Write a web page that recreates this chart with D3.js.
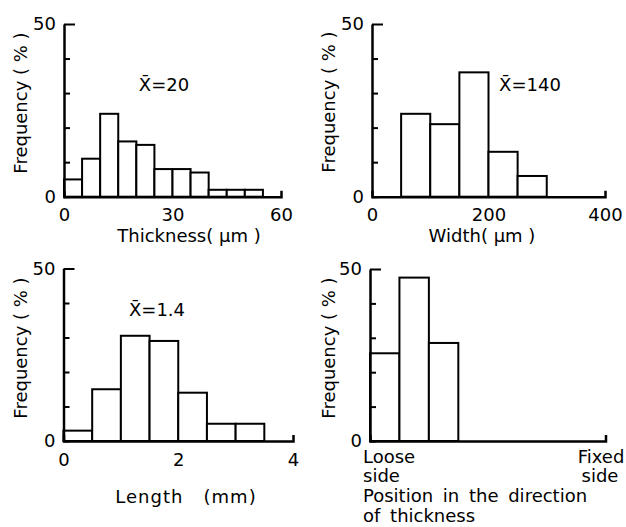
<!DOCTYPE html>
<html>
<head>
<meta charset="utf-8">
<script src="https://cdn.jsdelivr.net/npm/d3@7"></script>
<style>
  body { margin: 0; background: #fff; }
  svg { display: block; font-family: "DejaVu Sans", sans-serif; }
  text { fill: #000; }
</style>
</head>
<body>
<div id="chart"></div>
<script>
// Histogram data (bin start, frequency %)
const thicknessStarts = [0, 5, 10, 15, 20, 25, 30, 35, 40, 45, 50];
const thicknessFreq = [5, 11, 24, 16, 15, 8, 8, 7, 2, 2, 2];
const thicknessTicks = [0, 30, 60];

const widthStarts = [50, 100, 150, 200, 250];
const widthFreq = [24, 21, 36, 13, 6];
const widthTicks = [0, 200, 400];

const lengthStarts = [0, 0.5, 1, 1.5, 2, 2.5, 3];
const lengthFreq = [3, 15, 30.5, 29, 14, 5, 5];
const lengthTicks = [0, 2, 4];

const positionStarts = [0, 1, 2];
const positionFreq = [25.5, 47.5, 28.5];

const yTicks = [0, 10, 20, 30, 40, 50];

const W = 626, H = 527;
const svg = d3.select("#chart").append("svg")
  .attr("width", W)
  .attr("height", H);

// draw one histogram panel
function panel(opt) {
  const x = d3.scaleLinear().domain(opt.xDomain).range(opt.xRange);
  const y = d3.scaleLinear().domain([0, 50]).range(opt.yRange);
  const g = svg.append("g");

  g.selectAll("rect")
    .data(opt.starts)
    .join("rect")
    .attr("x", d => x(d))
    .attr("y", (d, i) => y(opt.freq[i]))
    .attr("width", d => x(d + opt.bin) - x(d))
    .attr("height", (d, i) => y(0) - y(opt.freq[i]))
    .attr("fill", "#fff")
    .attr("stroke", "#000")
    .attr("stroke-width", 2);

  // y axis, ticks pointing inwards
  const ya = g.append("g")
    .attr("transform", `translate(${opt.xRange[0]},0)`)
    .call(d3.axisLeft(y)
      .tickValues(yTicks)
      .tickSize(-6)
      .tickSizeOuter(0)
      .tickPadding(8)
      .tickFormat(d => (d === 0 || d === 50) ? d : ""));
  ya.selectAll(".tick line").filter(d => d === 50).attr("x2", 11);

  // x axis, small upward tick at the end
  const xa = g.append("g")
    .attr("transform", `translate(0,${opt.yRange[0]})`)
    .call(d3.axisBottom(x)
      .tickValues(opt.ticks)
      .tickFormat(d => String(d))
      .tickSize(0)
      .tickSizeOuter(-6)
      .tickPadding(12));

  [ya, xa].forEach(a => {
    a.select(".domain").attr("stroke-width", 2.5);
    a.selectAll(".tick line").attr("stroke-width", 2);
    a.selectAll("text")
      .style("font-family", "DejaVu Sans, sans-serif")
      .style("font-size", "18px");
  });

  g.append("text")
    .attr("transform", `translate(${opt.yLabel[0]},${opt.yLabel[1]}) rotate(-90)`)
    .attr("text-anchor", "middle")
    .style("font-size", "18px")
    .text("Frequency ( % )");

  if (opt.mean) {
    g.append("text")
      .attr("x", opt.mean[0])
      .attr("y", opt.mean[1])
      .attr("text-anchor", "middle")
      .style("font-size", "18px")
      .text(opt.mean[2]);
  }
  return g;
}

const p1 = panel({
  starts: thicknessStarts, freq: thicknessFreq, bin: 5, ticks: thicknessTicks,
  xDomain: [0, 60], xRange: [64, 281], yRange: [196.7, 24],
  yLabel: [27, 103], mean: [164, 91, "X\u0304=20"]
});
p1.append("text").attr("x", 189).attr("y", 242).attr("text-anchor", "middle")
  .style("font-size", "18px").text("Thickness( \u00b5m )");

const p2 = panel({
  starts: widthStarts, freq: widthFreq, bin: 50, ticks: widthTicks,
  xDomain: [0, 400], xRange: [372, 605], yRange: [196.7, 24],
  yLabel: [335, 102], mean: [530, 91, "X\u0304=140"]
});
p2.append("text").attr("x", 482).attr("y", 242).attr("text-anchor", "middle")
  .style("font-size", "18px").text("Width( \u00b5m )");

const p3 = panel({
  starts: lengthStarts, freq: lengthFreq, bin: 0.5, ticks: lengthTicks,
  xDomain: [0, 4], xRange: [63.5, 293], yRange: [441, 268.5],
  yLabel: [27, 348], mean: [157, 316, "X\u0304=1.4"]
});
p3.append("text").attr("x", 186).attr("y", 503).attr("text-anchor", "middle")
  .attr("xml:space", "preserve").style("white-space", "pre")
  .style("letter-spacing", "1px")
  .style("font-size", "18px").text("Length   (mm)");

const p4 = panel({
  starts: positionStarts, freq: positionFreq, bin: 1, ticks: [],
  xDomain: [0, 8], xRange: [370, 605.5], yRange: [441, 269],
  yLabel: [335, 348], mean: null
});
const p4Labels = [
  { t: "Loose", x: 363, y: 463, a: "start" },
  { t: "side", x: 363, y: 482, a: "start" },
  { t: "Fixed", x: 601, y: 463, a: "middle" },
  { t: "side", x: 600, y: 482, a: "middle" },
  { t: "Position in the direction", x: 363, y: 502, a: "start" },
  { t: "of thickness", x: 363, y: 522, a: "start" }
];
p4.selectAll("text.pl")
  .data(p4Labels)
  .join("text")
  .attr("class", "pl")
  .attr("x", d => d.x)
  .attr("y", d => d.y)
  .attr("text-anchor", d => d.a)
  .style("word-spacing", "4px")
  .style("font-size", "18px")
  .text(d => d.t);
</script>
</body>
</html>
